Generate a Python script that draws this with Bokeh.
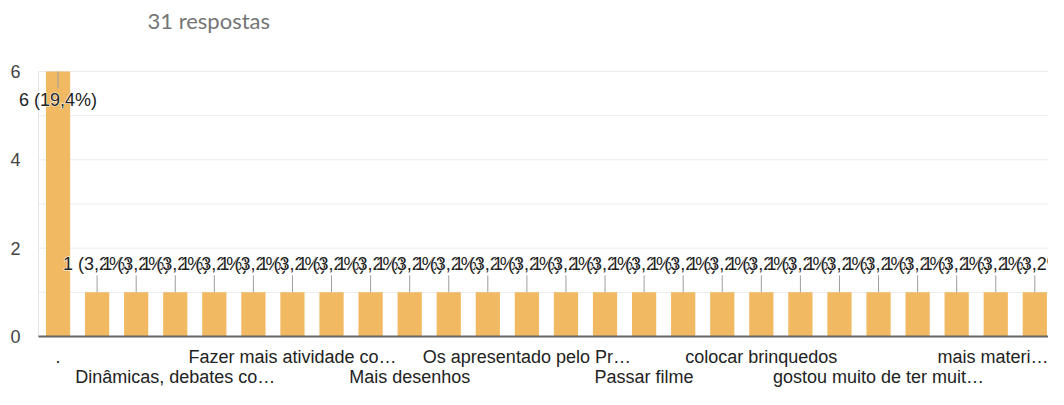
from bokeh.plotting import figure
from bokeh.models import (ColumnDataSource, FixedTicker, LinearAxis, Range1d,
                          Label)
from bokeh.core.properties import value
from bokeh.embed import file_html
from bokeh.resources import INLINE

# ---- data -------------------------------------------------------------
title_text = "31 respostas"
categories = [
    ".", "", "", "Dinâmicas, debates co…", "", "",
    "Fazer mais atividade co…", "", "", "Mais desenhos", "", "",
    "Os apresentado pelo Pr…", "", "", "Passar filme", "", "",
    "colocar brinquedos", "", "", "gostou muito de ter muit…", "", "",
    "mais materi…", "",
]
counts = [6, 1, 1, 1, 1, 1, 1, 1, 1, 1, 1, 1, 1,
          1, 1, 1, 1, 1, 1, 1, 1, 1, 1, 1, 1, 1]
y_ticks = [0, 2, 4, 6]
y_grid = [0, 1, 2, 3, 4, 5, 6]

# ---- derived ----------------------------------------------------------
total = sum(counts)
n = len(categories)
xs = list(range(n))
labels = [f"{c} ({100 * c / total:.1f}%)".replace(".", ",") for c in counts]

W, H = 1048, 389
FONT = "Liberation Sans"
ymax = 6
ppu = 44.2                # approx. pixels per value unit
pad = 10 / ppu            # room above/below for the value-axis labels
left_px = 38              # room kept for the value-axis labels
x_lo, x_hi = -0.5, n - 0.65
x_start = x_lo - left_px * (x_hi - x_lo) / (W - left_px)

p = figure(width=W, height=H, output_backend="svg", toolbar_location=None,
           x_range=Range1d(x_start, x_hi),
           y_range=Range1d(-pad, ymax + pad),
           y_axis_location=None,
           min_border_left=0, min_border_right=0, min_border_top=0,
           min_border_bottom=0, title=title_text)

p.title.text_font = "Lato"
p.title.text_font_size = "22px"
p.title.text_font_style = "normal"
p.title.text_color = "#757575"
p.title.offset = 147
p.title.standoff = 8

# x axis (bottom): two staggered rows of labels
row1 = [i for i in range(0, n, 6) if categories[i]]
row2 = [i for i in range(3, n, 6) if categories[i]]

ax1 = p.below[0]
ax1.ticker = FixedTicker(ticks=row1)
ax1.major_label_overrides = {i: categories[i] for i in row1}
ax1.axis_line_color = None
ax1.major_tick_line_color = None
ax1.minor_tick_line_color = None
ax1.major_tick_out = 0
ax1.major_tick_in = 0
ax1.major_label_standoff = 0
ax1.major_label_text_font = FONT
ax1.major_label_text_font_size = "18px"
ax1.major_label_text_color = "#222222"

ax2 = LinearAxis(ticker=FixedTicker(ticks=row2),
                 major_label_overrides={i: categories[i] for i in row2})
ax2.axis_line_color = None
ax2.major_tick_line_color = None
ax2.minor_tick_line_color = None
ax2.major_tick_out = 0
ax2.major_tick_in = 0
ax2.major_label_standoff = -3
ax2.major_label_text_font = FONT
ax2.major_label_text_font_size = "18px"
ax2.major_label_text_color = "#222222"
p.add_layout(ax2, "below")

# invisible spacer between the title and the plot frame
spacer = LinearAxis(ticker=FixedTicker(ticks=[0]),
                    major_label_overrides={0: ""})
spacer.axis_line_color = None
spacer.major_tick_line_color = None
spacer.minor_tick_line_color = None
spacer.major_tick_out = 24
spacer.major_tick_in = 0
spacer.major_label_standoff = 0
spacer.major_label_text_font_size = "1px"
p.add_layout(spacer, "above")

p.outline_line_color = None
p.xgrid.grid_line_color = None
p.ygrid.grid_line_color = None
p.background_fill_color = "white"
p.border_fill_color = "white"

# chart area: grid lines, box edges
p.segment(x0=[x_lo] * len(y_grid), x1=[x_hi] * len(y_grid), y0=y_grid,
          y1=y_grid, line_color="#ebebeb", line_width=1)
p.segment(x0=[x_lo, x_hi], x1=[x_lo, x_hi], y0=[0, 0], y1=[ymax, ymax],
          line_color="#e6e6e6", line_width=1)

src = ColumnDataSource(dict(x=xs, top=counts))
p.vbar(x="x", top="top", width=0.62, bottom=0, source=src,
       fill_color="#F1B961", line_color=None)

# baseline
p.segment(x0=[x_lo], x1=[x_hi], y0=[0], y1=[0], line_color="#666666",
          line_width=2)

# value-axis labels
p.text(x=[x_lo] * len(y_ticks), y=y_ticks, text=[str(t) for t in y_ticks],
       x_offset=-18, text_font=value(FONT), text_font_size="18px",
       text_color="#444444", text_align="right", text_baseline="middle")

# leader lines
lead = 17 / ppu
ly1, inside = [], []
for c in counts:
    ins = c + 40 / ppu > ymax
    inside.append(ins)
    ly1.append(c - lead if ins else c + lead)
p.segment(x0=xs, y0=counts, x1=xs, y1=ly1, line_color="#9e9e9e", line_width=1)

# value labels: white halo then dark text, one after another
for x, c, lab, ins in zip(xs, counts, labels, inside):
    off = -29 if ins else 28
    for col in ("white", "#222222"):
        kw = dict(text_outline_color="white") if col == "white" else {}
        p.add_layout(Label(x=x, y=c, y_offset=off, text=lab,
                           text_font=FONT, text_font_size="18px",
                           text_color=col, text_align="center",
                           text_baseline="middle", **kw))

open("out.html", "w").write(file_html(p, INLINE))
